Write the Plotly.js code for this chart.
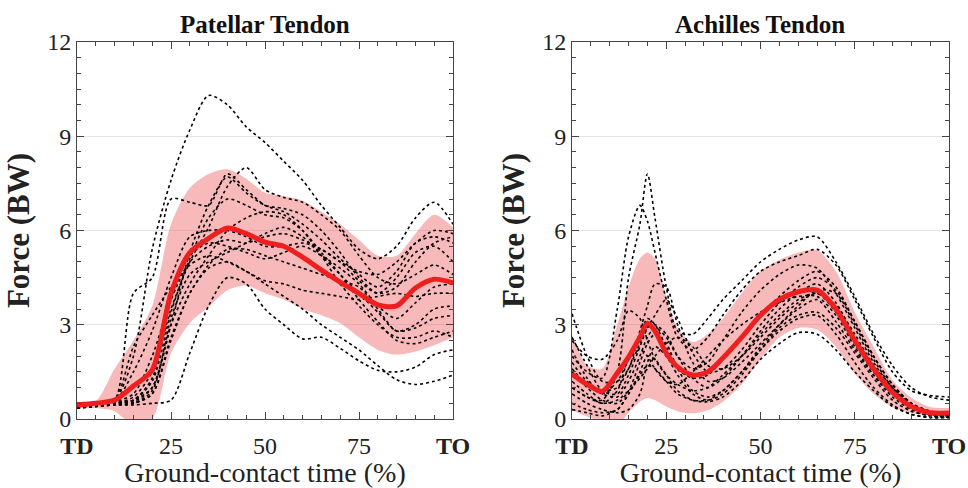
<!DOCTYPE html>
<html>
<head>
<meta charset="utf-8">
<script src="https://cdn.plot.ly/plotly-3.0.1.min.js"></script>
<style>html,body{margin:0;padding:0;background:#fff;}#chart{width:968px;height:488px;}</style>
</head>
<body>
<div id="chart"></div>
<script>
// ---------- Patellar tendon (left panel) ----------
const xPatellar = [0,5,10,15,20,25,30,35,40,45,50,55,60,65,70,75,80,85,90,95,100];
const patellarMean  = [0.45,0.5,0.6,1.05,1.56,4.0,5.3,5.75,6.08,5.9,5.63,5.5,5.15,4.74,4.36,4.0,3.63,3.6,4.17,4.45,4.33];
const patellarUpper = [0.55,0.58,1.6,2.5,3.6,6.2,7.35,7.8,7.95,7.65,7.2,7.1,6.95,6.6,6.2,5.7,5.2,5.2,5.9,6.5,6.1];
const patellarLower = [0.35,0.35,0.25,-0.2,0.0,2.1,3.05,3.57,4.1,4.25,4.0,3.8,3.5,3.3,3.05,2.6,2.2,2.05,2.15,2.35,2.6];
const patellarSubjects = [
  [0.45,0.5,0.6,2.0,5.4,7.6,9.2,10.3,10.0,9.3,8.8,8.2,7.6,6.8,6.1,5.4,5.1,5.5,6.4,6.9,6.2],
  [0.4,0.45,0.6,4.0,4.5,7.0,6.9,6.8,7.8,7.3,6.8,6.6,6.2,5.7,5.1,4.6,4.2,4.7,5.6,5.8,5.6],
  [0.4,0.45,0.5,0.7,1.5,3.5,5.0,6.1,7.4,8.0,7.3,7.05,6.9,6.5,6.0,5.2,4.5,4.3,4.6,4.9,4.6],
  [0.35,0.4,0.5,0.6,1.0,3.0,5.3,6.8,7.7,7.2,6.8,6.7,6.5,6.0,5.3,4.5,4.0,4.2,5.0,5.6,5.8],
  [0.5,0.5,0.55,1.5,2.8,4.5,5.8,6.0,6.0,5.8,5.5,5.5,5.6,5.4,5.0,4.4,4.0,4.5,5.3,5.5,5.0],
  [0.4,0.45,0.5,0.6,1.3,3.8,5.2,5.6,5.5,5.3,5.1,5.3,5.5,5.2,4.8,4.3,3.6,3.2,3.7,4.2,4.3],
  [0.35,0.4,0.45,0.5,0.9,3.2,4.6,5.0,5.3,5.6,5.9,6.1,5.8,5.2,4.6,4.0,3.4,2.8,2.9,3.2,3.3],
  [0.45,0.5,0.6,2.3,3.3,4.2,4.9,5.2,5.0,4.7,4.4,4.3,4.1,4.0,3.9,3.8,3.9,4.0,3.9,4.0,4.0],
  [0.35,0.4,0.45,0.45,0.5,0.6,2.1,3.6,4.5,4.3,3.5,3.0,2.55,2.6,2.25,1.85,1.55,1.5,1.65,2.05,2.2],
  [0.4,0.45,0.5,0.5,0.8,2.5,4.0,4.8,5.0,4.7,4.3,3.9,3.5,3.0,2.6,2.2,1.7,1.25,1.1,1.2,1.4],
  [0.4,0.45,0.5,0.55,1.0,3.0,4.3,5.2,6.0,6.4,6.6,6.5,6.0,5.2,4.3,3.6,3.0,2.6,2.6,2.8,2.6],
  [0.35,0.4,0.45,0.5,0.8,2.6,4.0,4.9,5.4,5.4,5.2,5.0,4.8,4.6,4.4,4.2,3.5,2.8,3.0,3.5,3.6],
  [0.4,0.45,0.55,0.8,2.0,3.8,5.0,5.5,5.7,5.6,5.8,5.9,5.7,5.4,5.0,4.7,4.6,5.0,5.6,6.0,5.9],
  [0.45,0.5,0.55,0.6,1.2,3.4,5.1,6.4,7.0,6.8,6.5,6.4,6.0,5.3,4.6,3.8,3.1,2.5,2.4,2.6,2.8]
];

// ---------- Achilles tendon (right panel) ----------
const xAchilles = [0,4,8,12,15,18,20,22,25,28,32,36,40,45,50,55,60,65,70,75,80,85,90,95,100];
const achillesMean  = [1.43,1.1,0.88,1.46,1.97,2.6,3.05,2.8,2.1,1.66,1.4,1.5,1.94,2.6,3.3,3.8,4.05,4.1,3.5,2.5,1.6,0.85,0.4,0.2,0.19];
const achillesUpper = [2.7,1.7,1.6,3.0,4.2,5.1,5.3,5.1,3.9,2.9,2.45,2.7,3.2,4.0,4.7,5.06,5.3,5.37,4.7,3.4,2.3,1.24,0.68,0.38,0.35];
const achillesLower = [0.28,0.08,-0.1,-0.2,0.2,0.55,0.67,0.6,0.4,0.25,0.18,0.28,0.55,1.1,1.9,2.6,2.9,2.85,2.3,1.45,0.8,0.38,0.19,0.1,0.06];
const achillesSubjects = [
  [1.0,0.7,0.6,1.5,4.5,6.2,7.8,6.4,4.2,2.8,2.7,3.2,3.8,4.4,5.0,5.4,5.7,5.8,5.0,3.9,2.7,1.7,1.0,0.7,0.6],
  [2.0,1.5,1.3,3.5,5.8,6.8,6.3,5.3,3.8,2.6,2.2,2.6,3.3,4.1,4.7,5.0,5.2,5.4,4.9,3.8,2.6,1.5,0.9,0.75,0.7],
  [3.35,2.0,1.2,1.2,1.6,2.8,3.6,4.3,4.2,3.0,1.8,1.2,1.3,1.8,2.4,3.0,3.5,3.8,3.1,2.2,1.4,0.8,0.4,0.2,0.15],
  [2.5,2.0,1.9,2.5,3.45,3.2,2.5,1.9,1.4,1.1,0.9,1.0,1.4,2.0,2.7,3.3,3.8,4.0,3.4,2.4,1.5,0.8,0.35,0.15,0.1],
  [0.5,0.3,0.2,0.3,0.8,1.5,2.0,1.9,1.4,0.9,0.6,0.55,0.7,1.2,1.9,2.4,2.75,2.7,2.2,1.5,0.9,0.4,0.15,0.05,0.05],
  [1.8,1.2,0.9,1.0,1.6,2.4,2.9,3.0,2.7,2.0,1.3,1.0,1.3,2.0,2.8,3.5,4.0,4.3,3.7,2.6,1.6,0.9,0.4,0.2,0.2],
  [1.5,1.0,0.6,0.5,0.9,1.8,2.4,2.7,2.4,1.6,0.9,0.7,0.9,1.5,2.3,3.0,3.6,4.1,4.0,3.0,1.9,1.0,0.4,0.15,0.1],
  [1.2,0.8,0.5,0.9,1.9,2.2,2.0,1.6,1.2,1.1,1.5,2.0,2.5,3.0,3.4,3.7,3.9,3.9,3.3,2.3,1.4,0.7,0.3,0.1,0.1],
  [0.8,0.5,0.3,0.2,0.3,0.8,1.8,2.3,2.0,1.4,0.8,0.6,0.8,1.4,2.2,2.9,3.3,3.4,2.9,2.1,1.3,0.6,0.25,0.1,0.05],
  [2.2,1.3,0.8,1.2,1.9,2.6,3.2,3.0,2.3,1.6,1.3,1.4,1.9,2.6,3.3,3.9,4.4,4.7,4.2,3.1,2.0,1.1,0.5,0.25,0.2],
  [1.0,0.7,0.5,0.6,0.9,1.3,1.6,2.0,2.4,2.6,2.3,1.7,1.6,2.0,2.6,3.2,3.7,4.0,3.6,2.7,1.7,1.0,0.45,0.2,0.15],
  [1.6,1.1,0.8,0.7,1.2,2.0,2.6,2.9,2.6,2.0,1.6,1.8,2.5,3.4,4.1,4.6,4.9,4.8,4.0,2.9,1.8,1.0,0.5,0.25,0.2],
  [0.3,0.2,0.1,0.3,0.8,1.4,1.7,1.6,1.2,0.8,0.6,0.6,0.9,1.5,2.2,2.8,3.2,3.3,2.7,1.8,1.0,0.45,0.15,0.05,0.05],
  [2.6,1.7,0.9,0.8,1.4,2.3,2.9,3.3,3.8,3.2,2.1,1.5,1.6,2.2,3.0,3.7,4.2,4.5,4.1,3.1,2.0,1.1,0.5,0.2,0.15]
];

const xTickVals = [0,25,50,75,100];
const xTickText = ['<b>TD</b>','25','50','75','<b>TO</b>'];
const yTickVals = [0,3,6,9,12];

const FONT = '"Liberation Serif", "DejaVu Serif", serif';
const traces = [];

function addPanel(x, mean, upper, lower, subjects, xa, ya) {
  traces.push({x:x, y:upper, xaxis:xa, yaxis:ya, type:'scatter', mode:'lines',
    line:{width:0, shape:'spline', smoothing:0.8}, hoverinfo:'skip', showlegend:false});
  traces.push({x:x, y:lower, xaxis:xa, yaxis:ya, type:'scatter', mode:'lines', fill:'tonexty',
    fillcolor:'rgba(238,100,100,0.45)', line:{width:0, shape:'spline', smoothing:0.8}, hoverinfo:'skip', showlegend:false});
  subjects.forEach(function(s){
    traces.push({x:x, y:s, xaxis:xa, yaxis:ya, type:'scatter', mode:'lines',
      line:{color:'#000', width:1.6, dash:'dot', shape:'spline', smoothing:0.8}, showlegend:false});
  });
  traces.push({x:x, y:mean, xaxis:xa, yaxis:ya, type:'scatter', mode:'lines',
    line:{color:'#ee1f1f', width:5, shape:'spline', smoothing:0.8}, showlegend:false});
}
addPanel(xPatellar, patellarMean, patellarUpper, patellarLower, patellarSubjects, 'x', 'y');
addPanel(xAchilles, achillesMean, achillesUpper, achillesLower, achillesSubjects, 'x2', 'y2');

function xAxis(domain, anchor) {
  return {domain:domain, anchor:anchor, range:[0,100], tickmode:'array', tickvals:xTickVals, ticktext:xTickText,
    ticks:'inside', ticklen:7, tickcolor:'#444', showline:true, linecolor:'#444', linewidth:1, mirror:'ticks',
    showgrid:false, zeroline:false, tickfont:{family:FONT, size:24, color:'#222'}, ticklabelstandoff:5,
    minor:{tickmode:'linear', tick0:0, dtick:5, ticks:'inside', ticklen:4, tickcolor:'#444', showgrid:false},
    title:{text:'Ground-contact time (%)', font:{family:FONT, size:28, color:'#222'}, standoff:2}};
}
function yAxis(anchor) {
  return {domain:[0,1], anchor:anchor, range:[0,12], tickmode:'array', tickvals:yTickVals,
    ticks:'inside', ticklen:7, tickcolor:'#444', showline:true, linecolor:'#444', linewidth:1, mirror:'ticks',
    showgrid:true, gridcolor:'#e3e3e3', gridwidth:1, zeroline:false, tickfont:{family:FONT, size:24, color:'#222'},
    minor:{tickmode:'linear', tick0:0, dtick:0.5, ticks:'inside', ticklen:4, tickcolor:'#444', showgrid:false},
    title:{text:'<b>Force (BW)</b>', font:{family:FONT, size:31, color:'#222'}, standoff:8}};
}

const layout = {
  width:968, height:488, paper_bgcolor:'#fff', plot_bgcolor:'#fff',
  margin:{l:77, r:19, t:42, b:69},
  showlegend:false,
  xaxis: xAxis([0, 0.4312], 'y'),
  yaxis: yAxis('x'),
  xaxis2: xAxis([0.5677, 1], 'y2'),
  yaxis2: yAxis('x2'),
  annotations:[
    {text:'<b>Patellar Tendon</b>', xref:'paper', yref:'paper', x:0.2156, xanchor:'center', y:1, yanchor:'bottom', yshift:2,
     showarrow:false, font:{family:FONT, size:25, color:'#111'}},
    {text:'<b>Achilles Tendon</b>', xref:'paper', yref:'paper', x:0.7838, xanchor:'center', y:1, yanchor:'bottom', yshift:2,
     showarrow:false, font:{family:FONT, size:25, color:'#111'}}
  ]
};

Plotly.newPlot('chart', traces, layout, {displayModeBar:false, staticPlot:true});
</script>
</body>
</html>
